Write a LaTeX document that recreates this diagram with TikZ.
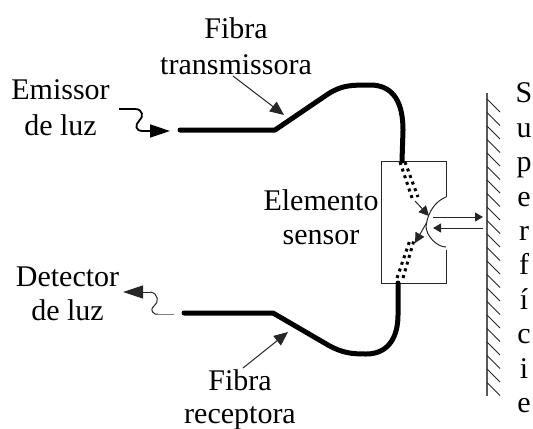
\documentclass[tikz,border=0pt]{standalone}
\usepackage{fontspec}
\setmainfont{Liberation Serif}
\usetikzlibrary{arrows.meta}
\tikzset{
    % Define arrow tips
    seta grande/.tip={Stealth[length=10pt,width=6.5pt,inset=0pt]},
    seta media/.tip={Stealth[length=7pt,width=6pt,inset=0pt]},
    seta luz/.tip={Stealth[length=5pt,width=5pt,inset=0pt]},
    seta curta/.tip={Stealth[length=4pt,width=4.5pt,inset=0pt]},
    fibra/.style={line width=2.5pt,line cap=round,line join=round},
    nucleo/.style={line width=1.5pt,dash pattern=on 1.5pt off 2pt,line cap=butt},
    fino/.style={line width=0.5pt,black!85},
    lab/.style={font=\fontsize{15}{18}\selectfont,align=center,inner sep=0pt},
}
\begin{document}
\begin{tikzpicture}[x=0.5pt,y=-0.5pt]
\useasboundingbox (0,0) rectangle (533,428);

\node[lab] (fibraT) at (236,46) {Fibra\\transmissora};
\node[lab] (emissor) at (60.5,108) {Emissor\\de luz};
\node[lab,font=\fontsize{15}{17}\selectfont] (elemento) at (321,217) {Elemento\\sensor};
\node[lab,font=\fontsize{15}{17}\selectfont] (detector) at (67.5,293.5) {Detector\\de luz};
\node[lab,font=\fontsize{15}{16.5}\selectfont] (fibraR) at (240,399.5) {Fibra\\receptora};
\node[lab,font=\fontsize{15}{17.2}\selectfont] (superficie) at (524,248) {S\\u\\p\\e\\r\\f\\í\\c\\i\\e};

% caixa do sensor
\coordinate (boxTL) at (381,161);
\coordinate (boxTR) at (446,161);
\coordinate (boxBL) at (381,283);
\coordinate (boxBR) at (446,283);
\coordinate (notchT) at (446,197);
\coordinate (notchB) at (446,247);
\coordinate (notchC) at (426,226);
\draw[fino] (notchT) -- (boxTR) -- (boxTL) -- (boxBL) -- (boxBR) -- (446,250);
\draw[fino] (notchT) .. controls (436,201) and (428,211) .. (notchC)
    .. controls (426,236) and (437,247) .. (notchB);

% fibras
\coordinate (inT) at (180,130);
\coordinate (inB) at (184,313);
\draw[fibra] (inT) -- (275,130) -- (328,94) .. controls (342,85) and (352,85) .. (370,85)
    .. controls (395,85) and (403,105) .. (403,130) -- (402,161);
\draw[fibra] (inB) -- (273,313) -- (328,345) .. controls (342,353) and (352,354) .. (366,354)
    .. controls (390,354) and (398,335) .. (398,315) -- (398,283);

% nucleos
\draw[nucleo] (400,162) -- (412,198);
\draw[nucleo] (405,162) -- (418,197);
\draw[nucleo] (397,278) -- (410,240);
\draw[nucleo] (403,278) -- (414,240);

% luz dentro do sensor
\coordinate (luzA) at (415,201);
\coordinate (luzB) at (429,216);
\coordinate (luzC) at (427,222);
\coordinate (luzD) at (415,243);
\draw[fino,-seta luz] (luzA) -- (luzB);
\draw[fino,-seta luz] (luzC) -- (luzD);

% setas ate a superficie
\coordinate (idaA) at (433,217);
\coordinate (idaB) at (483,217);
\coordinate (voltaA) at (483,228);
\coordinate (voltaB) at (433,228);
\draw[fino,-seta curta] (idaA) -- (idaB);
\draw[fino,-seta curta] (voltaA) -- (voltaB);

% superficie
\coordinate (supT) at (487,93);
\coordinate (supB) at (487,396);
\draw[line width=0.8pt,black!65] (supT) -- (supB);
\foreach \y in {99,112.5,...,384}
    \draw[fino] (487,\y) -- ++(13,13);

% emissor e detector
\coordinate (emA) at (119,109);
\coordinate (emB) at (170,131);
\draw[line width=0.9pt,-seta grande] (emA) -- (135,109) .. controls (143,109) and (144,117) .. (139,121)
    .. controls (135,125) and (135,131) .. (143,131) -- (emB);
\coordinate (detA) at (174,314);
\coordinate (detB) at (123,292);
\draw[fino,gray] (detA) -- (158,314);
\draw[fino] (158,314) -- (155,314) .. controls (151,312) and (151,308) .. (154,306)
    .. controls (159,303) and (159,293) .. (150,292);
\draw[fino,-seta grande] (150,292) -- (detB);

% setas das fibras
\coordinate (ftA) at (233,76);
\coordinate (ftB) at (284,115);
\coordinate (frA) at (243,368);
\coordinate (frB) at (288,332);
\draw[fino,-seta media] (ftA) -- (ftB);
\draw[fino,-seta media] (frA) -- (frB);
\end{tikzpicture}
\end{document}
